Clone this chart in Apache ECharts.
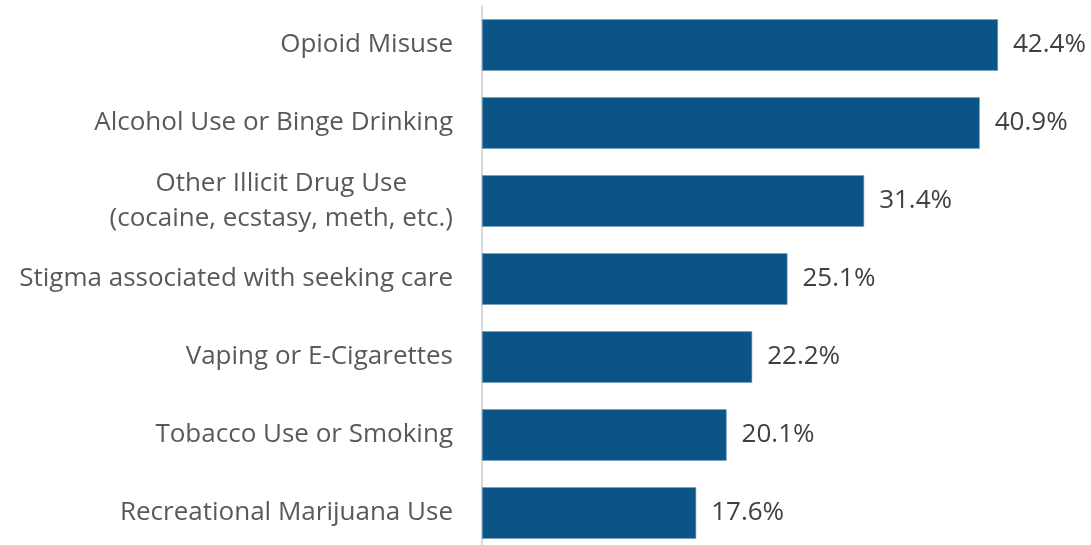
<!DOCTYPE html>
<html>
<head>
<meta charset="utf-8">
<script src="https://cdn.jsdelivr.net/npm/echarts@6/dist/echarts.min.js"></script>
<style>
  html, body { margin: 0; padding: 0; background: #ffffff; overflow: hidden; }
  /* the plot runs a few pixels past the bottom edge of the window */
  #chart { width: 1091px; height: 560px; }
</style>
</head>
<body>
<div id="chart"></div>
<script>
// Categories listed bottom-to-top (category axis on y starts at the bottom)
const categories = [
  'Recreational Marijuana Use',
  'Tobacco Use or Smoking',
  'Vaping or E-Cigarettes',
  'Stigma associated with seeking care',
  'Other Illicit Drug Use\n(cocaine, ecstasy, meth, etc.)',
  'Alcohol Use or Binge Drinking',
  'Opioid Misuse'
];
const values = [17.6, 20.1, 22.2, 25.1, 31.4, 40.9, 42.4];

const FONT = '"Open Sans", "Noto Sans", sans-serif';
const SIZE = 26;

const chart = echarts.init(document.getElementById('chart'), null, { renderer: 'canvas' });
chart.setOption({
  animation: false,
  grid: { left: 482, top: 6, width: 608.5, height: 546, containLabel: false },
  xAxis: {
    type: 'value',
    min: 0,
    max: 50,
    show: false
  },
  yAxis: {
    type: 'category',
    data: categories,
    axisLine: { show: true, lineStyle: { color: '#d9d9d9', width: 2 } },
    axisTick: { show: false },
    splitLine: { show: false },
    axisLabel: {
      margin: 29,
      fontFamily: FONT,
      fontSize: SIZE,
      color: '#595959',
      align: 'right',
      formatter: function (v) {
        if (v.indexOf('\n') >= 0) {
          return v.split('\n').map(function (s) { return '{c|' + s + '}'; }).join('\n');
        }
        return v;
      },
      rich: {
        c: { align: 'center', fontFamily: FONT, fontSize: SIZE, color: '#595959', lineHeight: 35 }
      }
    }
  },
  series: [{
    type: 'bar',
    data: values,
    barCategoryGap: '34%',
    itemStyle: { color: '#0a5585', borderColor: '#6f9cc0', borderWidth: 0.6 },
    label: {
      show: true,
      position: 'right',
      distance: 15,
      fontFamily: FONT,
      fontSize: SIZE,
      color: '#404040',
      formatter: function (p) { return p.value.toFixed(1) + '%'; }
    }
  }]
});
</script>
</body>
</html>
